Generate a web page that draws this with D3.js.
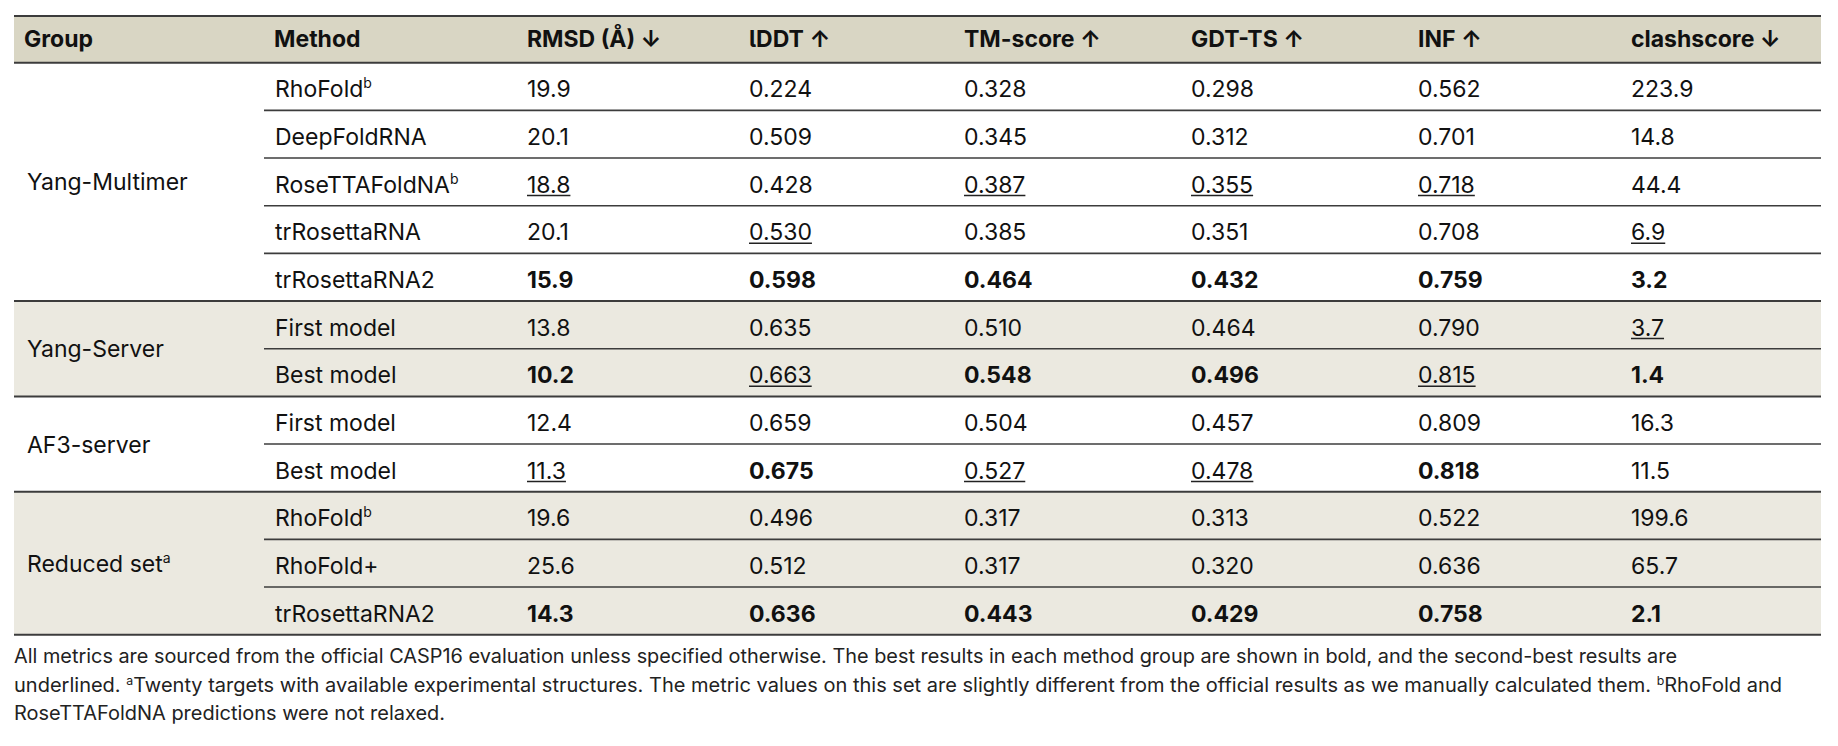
<!DOCTYPE html>
<html>
<head>
<meta charset="utf-8">
<script src="https://cdn.jsdelivr.net/npm/d3@7"></script>
<style>
  html, body { margin: 0; padding: 0; background: #ffffff; }
  svg text { font-family: "Inter", "Roboto", sans-serif; fill: #111111; }
</style>
</head>
<body>
<div id="chart"></div>
<script>

// ---DATA---//

var headers = [ "Group", "Method", "RMSD (Å) ↓", "lDDT ↑", "TM-score ↑", "GDT-TS ↑", "INF ↑", "clashscore ↓" ];

var groups = [ "Yang-Multimer", "Yang-Server", "AF3-server", "Reduced set" ];
var groupSup = [ "", "", "", "a" ];
var groupSizes = [ 5, 2, 2, 3 ];
var groupShaded = [ false, true, false, true ];

var methods = [ "RhoFold", "DeepFoldRNA", "RoseTTAFoldNA", "trRosettaRNA", "trRosettaRNA2",
		"First model", "Best model",
		"First model", "Best model",
		"RhoFold", "RhoFold+", "trRosettaRNA2" ];
var methodSup = [ "b", "", "b", "", "", "", "", "", "", "b", "", "" ];

var rmsd = [ 19.9, 20.1, 18.8, 20.1, 15.9, 13.8, 10.2, 12.4, 11.3, 19.6, 25.6, 14.3 ];
var lddt = [ 0.224, 0.509, 0.428, 0.530, 0.598, 0.635, 0.663, 0.659, 0.675, 0.496, 0.512, 0.636 ];
var tmScore = [ 0.328, 0.345, 0.387, 0.385, 0.464, 0.510, 0.548, 0.504, 0.527, 0.317, 0.317, 0.443 ];
var gdtTs = [ 0.298, 0.312, 0.355, 0.351, 0.432, 0.464, 0.496, 0.457, 0.478, 0.313, 0.320, 0.429 ];
var inf = [ 0.562, 0.701, 0.718, 0.708, 0.759, 0.790, 0.815, 0.809, 0.818, 0.522, 0.636, 0.758 ];
var clashscore = [ 223.9, 14.8, 44.4, 6.9, 3.2, 3.7, 1.4, 16.3, 11.5, 199.6, 65.7, 2.1 ];

// b = bold (best), u = underlined (second best), n = plain; one char per metric column
var marks = [ "nnnnnn", "nnnnnn", "unuuun", "nunnnu", "bbbbbb",
		"nnnnnu", "bubbub",
		"nnnnnn", "ubuubn",
		"nnnnnn", "nnnnnn", "bbbbbb" ];

var footnotes = [
	[ { t : "All metrics are sourced from the official CASP16 evaluation unless specified otherwise. The best results in each method group are shown in bold, and the second-best results are" } ],
	[ { t : "underlined. " }, { t : "a", sup : true }, { t : "Twenty targets with available experimental structures. The metric values on this set are slightly different from the official results as we manually calculated them. " }, { t : "b", sup : true }, { t : "RhoFold and" } ],
	[ { t : "RoseTTAFoldNA predictions were not relaxed." } ]
];

// ---LAYOUT---//

var width = 1838;
var height = 746;

var tableLeft = 14;
var tableRight = 1821;
var headerTop = 16;
var headerBottom = 62.7;
var rowHeight = 47.67;

var colX = [ 24, 274, 527, 749, 964, 1191, 1418, 1631 ];
var methodLineX = 264;

var fontSize = 23;
var headerColor = "#d9d6c4";
var shadeColor = "#ebe9e0";
var lineColor = "#3c3c3c";

var footLines = [ { y : 663, len : 1663 }, { y : 691.5, len : 1768 }, { y : 720, len : 431 } ];

// ---BUILD ROWS---//

var metricCols = [ rmsd, lddt, tmScore, gdtTs, inf, clashscore ];
var metricDigits = [ 1, 3, 3, 3, 3, 1 ];

var groupOf = [];
var groupStart = [];
var start = 0;
groupSizes.forEach(function(n, g) {
	groupStart.push(start);
	for (var k = 0; k < n; k++) {
		groupOf.push(g);
	}
	start += n;
});

var rows = methods.map(function(m, i) {
	return {
		index : i,
		method : m,
		sup : methodSup[i],
		group : groupOf[i],
		cells : metricCols.map(function(col, c) {
			return {
				text : col[i].toFixed(metricDigits[c]),
				mark : marks[i].charAt(c),
				col : c
			};
		})
	};
});

function isGroupEnd(i) {
	return i === rows.length - 1 || groupOf[i + 1] !== groupOf[i];
}

var y = d3.scaleBand().domain(d3.range(rows.length)).range(
		[ headerBottom, headerBottom + rowHeight * rows.length ]).padding(0);

var x = d3.scaleOrdinal().domain(d3.range(headers.length)).range(colX);

var svg = d3.select("#chart").append("svg").attr("width", width).attr(
		"height", height);

// ---BACKGROUNDS---//

svg.append("rect") //
.attr("x", tableLeft) //
.attr("y", headerTop) //
.attr("width", tableRight - tableLeft) //
.attr("height", headerBottom - headerTop) //
.attr("fill", headerColor);

svg.selectAll("rect.groupBg").data(groups).enter().append("rect") //
.attr("class", "groupBg") //
.attr("x", tableLeft) //
.attr("y", function(d, g) {
	return y(groupStart[g]);
}) //
.attr("width", tableRight - tableLeft) //
.attr("height", function(d, g) {
	return groupSizes[g] * y.bandwidth();
}) //
.attr("fill", function(d, g) {
	return groupShaded[g] ? shadeColor : "none";
});

// ---RULES---//

var rules = svg.append("g").attr("class", "rules");

// header top and bottom
[ headerTop, headerBottom ].forEach(function(yy) {
	rules.append("line") //
	.attr("x1", tableLeft).attr("x2", tableRight) //
	.attr("y1", yy).attr("y2", yy) //
	.attr("stroke", lineColor).attr("stroke-width", 2);
});

// row bottoms: full width at group ends, method-column width inside groups
rules.selectAll("line.rowRule").data(rows).enter().append("line") //
.attr("class", "rowRule") //
.attr("x1", function(d) {
	return isGroupEnd(d.index) ? tableLeft : methodLineX;
}) //
.attr("x2", tableRight) //
.attr("y1", function(d) {
	return y(d.index) + y.bandwidth();
}) //
.attr("y2", function(d) {
	return y(d.index) + y.bandwidth();
}) //
.attr("stroke", lineColor) //
.attr("stroke-width", function(d) {
	return isGroupEnd(d.index) ? 2 : 1.6;
});

// ---HEADER TEXT---//

svg.selectAll("text.header").data(headers).enter().append("text") //
.attr("class", "header") //
.attr("x", function(d, i) {
	return x(i);
}) //
.attr("y", (headerTop + headerBottom) / 2 + 8) //
.attr("font-size", fontSize) //
.attr("font-weight", 700) //
.style("font-feature-settings", function(d) {
	// tailed l for lDDT
	return d.charAt(0) === "l" ? "'cv05' 1" : null;
}) //
.text(function(d) {
	return d;
});

// ---GROUP LABELS---//

var groupLabels = svg.selectAll("text.group").data(groups).enter().append(
		"text") //
.attr("class", "group") //
.attr("x", x(0) + 3) //
.attr("y", function(d, g) {
	var top = y(groupStart[g]);
	var bottom = top + groupSizes[g] * y.bandwidth();
	return (top + bottom) / 2 + 8.5;
}) //
.attr("font-size", fontSize);

groupLabels.append("tspan").text(function(d) {
	return d;
});
groupLabels.append("tspan") //
.attr("dy", -9) //
.attr("font-size", 14) //
.text(function(d, g) {
	return groupSup[g];
});

// ---ROWS---//

var rowG = svg.selectAll("g.row").data(rows).enter().append("g") //
.attr("class", "row") //
.attr("transform", function(d) {
	return "translate(0," + (y(d.index) + 34.5) + ")";
});

var methodText = rowG.append("text") //
.attr("x", x(1) + 1) //
.attr("y", 0) //
.attr("font-size", fontSize);

methodText.append("tspan").text(function(d) {
	return d.method;
});
methodText.append("tspan") //
.attr("dy", -9) //
.attr("font-size", 14) //
.text(function(d) {
	return d.sup;
});

var cells = rowG.selectAll("g.cell").data(function(d) {
	return d.cells;
}).enter().append("g").attr("class", "cell");

cells.append("text") //
.attr("x", function(d) {
	return x(d.col + 2);
}) //
.attr("y", 0) //
.attr("font-size", fontSize) //
.attr("font-weight", function(d) {
	return d.mark === "b" ? 700 : 400;
}) //
.text(function(d) {
	return d.text;
});

cells.filter(function(d) {
	return d.mark === "u";
}).each(function(d) {
	var w = d3.select(this).select("text").node().getComputedTextLength();
	d3.select(this).append("line") //
	.attr("x1", x(d.col + 2)) //
	.attr("x2", x(d.col + 2) + w) //
	.attr("y1", 3) //
	.attr("y2", 3) //
	.attr("stroke", "#222222") //
	.attr("stroke-width", 1.4);
});

// ---FOOTNOTE---//

var foot = svg.selectAll("text.foot").data(footnotes).enter().append("text") //
.attr("class", "foot") //
.attr("x", tableLeft) //
.attr("y", function(d, i) {
	return footLines[i].y;
}) //
.attr("font-size", 19.5) //
.attr("textLength", function(d, i) {
	return footLines[i].len;
}) //
.attr("lengthAdjust", "spacingAndGlyphs") //
.style("fill", "#222222");

foot.each(function(parts) {
	var el = d3.select(this);
	parts.forEach(function(p) {
		var ts = el.append("tspan").text(p.t);
		if (p.sup) {
			ts.attr("font-size", 12).attr("baseline-shift", "super");
		}
	});
});

</script>
</body>
</html>
